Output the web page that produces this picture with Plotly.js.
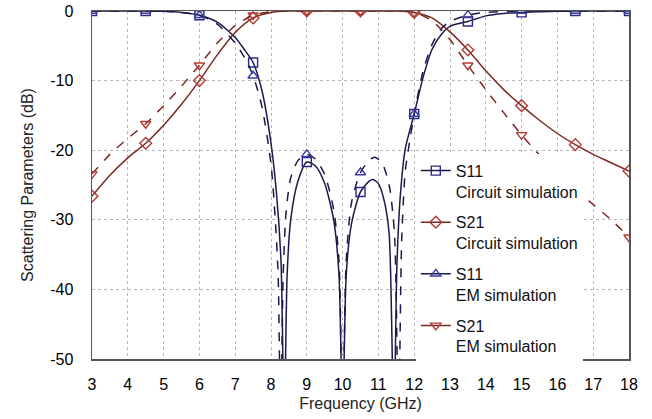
<!DOCTYPE html>
<html>
<head>
<meta charset="utf-8">
<script src="https://cdn.plot.ly/plotly-3.0.1.min.js"></script>
<style>html,body{margin:0;padding:0;background:#fff;}#chart{width:652px;height:419px;}</style>
</head>
<body>
<div id="chart"></div>
<script>
// ---- data ----
const s11cX = [3, 3.5, 4, 4.5, 5, 5.5, 6, 6.5, 7, 7.25, 7.5, 7.75, 8, 8.15, 8.28, 8.37, 8.45, 8.55, 8.75, 9, 9.25, 9.5, 9.75, 9.9, 10, 10.1, 10.25, 10.5, 10.75, 10.85, 11, 11.15, 11.3, 11.43, 11.52, 11.62, 11.75, 12, 12.25, 12.5, 12.75, 13, 13.5, 14, 14.5, 15, 15.5, 16, 16.5, 17, 17.5, 18];
const s11cY = [0, 0, 0, 0, -0.05, -0.2, -0.6, -1.6, -3.8, -5.5, -7.4, -11.5, -19, -26, -36, -60, -38, -30, -24.5, -21.7, -22.3, -24.8, -30, -38, -60, -38, -30.5, -26, -24.4, -24.2, -24.8, -27, -32, -60, -36, -26, -19.8, -14.8, -9.5, -5.5, -3.4, -2.2, -1.5, -0.7, -0.35, -0.2, -0.1, -0.05, 0, 0, 0, 0];

const s21cX = [3, 3.5, 4, 4.5, 5, 5.5, 6, 6.5, 7, 7.5, 8, 8.5, 9, 9.5, 10, 10.5, 11, 11.5, 12, 12.5, 13, 13.5, 14, 14.5, 15, 15.5, 16, 16.5, 17, 17.5, 18];
const s21cY = [-26.6, -23.6, -21.1, -19, -16.4, -13.4, -10, -6.3, -3.1, -1.0, -0.2, 0, 0, 0, 0, 0, 0, 0, -0.2, -1.0, -3.0, -5.6, -8.6, -11.3, -13.6, -15.7, -17.6, -19.2, -20.6, -21.8, -23];

const s11eX = [3, 3.5, 4, 4.5, 5, 5.5, 6, 6.5, 7, 7.25, 7.5, 7.75, 8, 8.12, 8.2, 8.27, 8.34, 8.42, 8.55, 8.75, 9, 9.25, 9.5, 9.75, 9.9, 10, 10.1, 10.25, 10.5, 10.75, 10.9, 11.1, 11.3, 11.45, 11.56, 11.65, 11.75, 11.85, 12, 12.25, 12.5, 12.75, 13, 13.5, 14, 14.5, 15, 15.5, 16, 16.5, 17, 17.5, 18];
const s11eY = [0, 0, 0, 0, -0.05, -0.2, -0.6, -1.9, -4.6, -6.6, -9.3, -13.8, -22, -30, -38, -60, -38, -29, -24, -21.5, -20.6, -21.3, -23.5, -28.5, -36, -60, -36, -27.5, -23.2, -21.4, -21, -21.8, -25, -32, -60, -33, -23, -19.5, -14.8, -8.6, -4.8, -2.6, -1.5, -0.6, -0.2, -0.1, 0, 0, 0, 0, 0, 0, 0];

const s21eX = [3, 3.5, 4, 4.5, 5, 5.5, 6, 6.5, 7, 7.5, 8, 8.5, 9, 9.5, 10, 10.5, 11, 11.5, 12, 12.5, 13, 13.5, 14, 14.5, 15, 15.5, 16, 16.5, 17, 17.5, 18];
const s21eY = [-23.4, -20.6, -18.3, -16.2, -13.6, -10.8, -7.8, -4.6, -2.1, -0.6, -0.1, 0, 0, 0, 0, 0, 0, 0, -0.2, -1.4, -4.1, -7.8, -11.3, -14.6, -17.8, -20.7, -23.2, -25.6, -27.8, -30, -32.5];

const seriesNames = ["S11<br>Circuit simulation", "S21<br>Circuit simulation", "S11<br>EM simulation", "S21<br>EM simulation"];
const xTicks = [3, 4, 5, 6, 7, 8, 9, 10, 11, 12, 13, 14, 15, 16, 17, 18];
const yTickVals = [0, -10, -20, -30, -40, -50];
const yTickText = ["0", "-10", "-20", "-30", "-40", "-50"];
const markerStep = 1.5;

// ---- styling ----
const styles = [
  {x: s11cX, y: s11cY, line: '#1a1a4a', dash: 'solid', mcolor: '#2a2a86', symbol: 'square-open'},
  {x: s21cX, y: s21cY, line: '#7a2a22', dash: 'solid', mcolor: '#b43a34', symbol: 'diamond-open'},
  {x: s11eX, y: s11eY, line: '#1a1a4a', dash: 'dash', mcolor: '#3a3aa0', symbol: 'triangle-up-open'},
  {x: s21eX, y: s21eY, line: '#7a2a22', dash: 'dash', mcolor: '#b43a34', symbol: 'triangle-down-open'}
];

function isMarkerX(v) {
  const k = (v - 3) / markerStep;
  return Math.abs(k - Math.round(k)) < 1e-9;
}

const traces = [];
styles.forEach((s, i) => {
  const g = 'g' + i;
  traces.push({
    x: s.x, y: s.y, type: 'scatter', mode: 'lines', showlegend: false, legendgroup: g,
    line: {color: s.line, width: 1.5, dash: s.dash, shape: 'spline', smoothing: 0.7},
    hoverinfo: 'skip'
  });
  const mx = [], my = [];
  s.x.forEach((v, j) => { if (isMarkerX(v)) { mx.push(v); my.push(s.y[j]); } });
  traces.push({
    x: mx, y: my, type: 'scatter', mode: 'markers', showlegend: false, legendgroup: g,
    marker: {symbol: s.symbol, size: 9, color: s.mcolor, line: {width: 1.4, color: s.mcolor}}
  });
});
styles.forEach((s, i) => {
  traces.push({
    x: [null], y: [null], type: 'scatter', mode: 'lines+markers', name: seriesNames[i],
    legendgroup: 'g' + i,
    line: {color: s.line, width: 1.5, dash: 'solid'},
    marker: {symbol: s.symbol, size: 9, color: s.mcolor, line: {width: 1.4, color: s.mcolor}}
  });
});

const fontFam = 'Liberation Sans, Arial, sans-serif';
const layout = {
  width: 652, height: 419,
  margin: {l: 92, r: 23, t: 11, b: 60},
  paper_bgcolor: '#fff', plot_bgcolor: '#fff',
  font: {family: fontFam, size: 16, color: '#111'},
  xaxis: {
    range: [3, 18], tickvals: xTicks, ticks: '', showgrid: true,
    gridcolor: '#b8b8b8', griddash: '3px,3px', gridwidth: 1,
    showline: true, linecolor: '#555', linewidth: 1.5, mirror: true, zeroline: false,
    tickfont: {family: fontFam, size: 16, color: '#000'}, ticklabelstandoff: 10,
    title: {text: 'Frequency (GHz)', font: {family: fontFam, size: 16, color: '#222'}, standoff: 6}
  },
  yaxis: {
    range: [-50, 0], tickvals: yTickVals, ticktext: yTickText, ticks: '', showgrid: true,
    gridcolor: '#b8b8b8', griddash: '3px,3px', gridwidth: 1,
    showline: true, linecolor: '#555', linewidth: 1.5, mirror: true, zeroline: false,
    tickfont: {family: fontFam, size: 16, color: '#000'}, ticklabelstandoff: 14,
    title: {text: 'Scattering Parameters (dB)', font: {family: fontFam, size: 16, color: '#222'}, standoff: 12}
  },
  legend: {
    x: 0.603, y: 0.59, xanchor: 'left', yanchor: 'top',
    bgcolor: '#fff', borderwidth: 0, valign: 'top', itemwidth: 30,
    traceorder: 'grouped', tracegroupgap: 7,
    font: {family: fontFam, size: 16, color: '#111'}
  },
  showlegend: true
};

Plotly.newPlot('chart', traces, layout, {displayModeBar: false, staticPlot: true});
</script>
</body>
</html>
